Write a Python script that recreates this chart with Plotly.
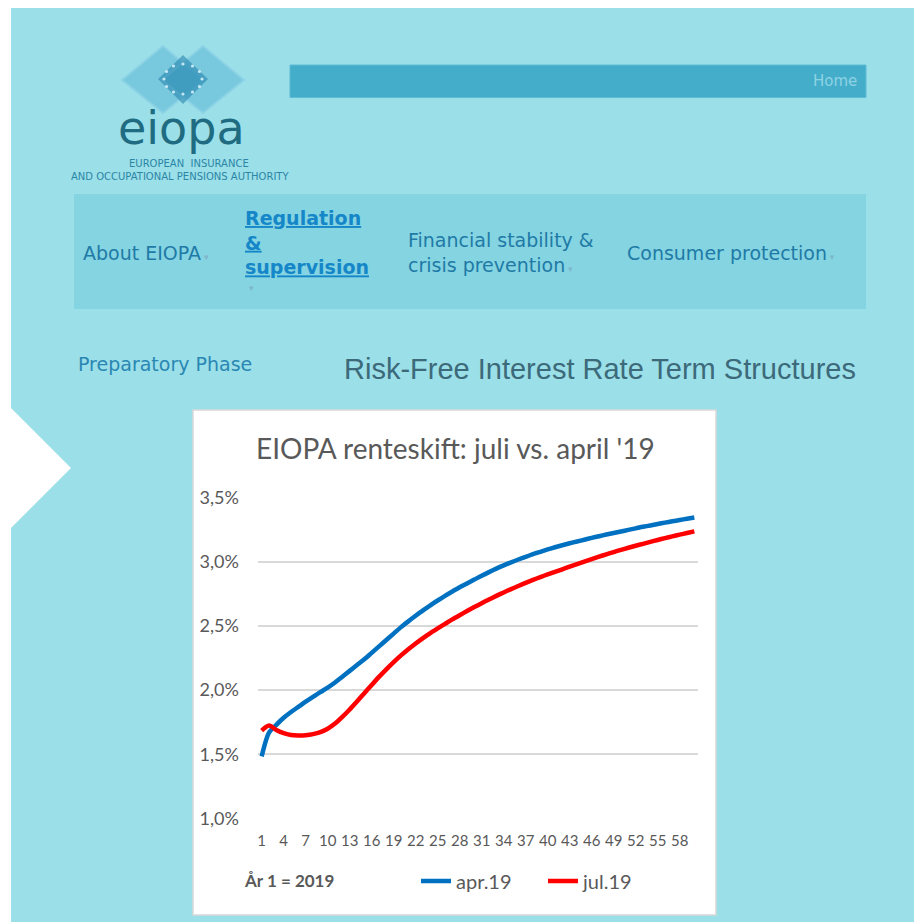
import math
import plotly.graph_objects as go

# ---------------- data ----------------
years = list(range(1, 61))
apr19 = [1.485, 1.67, 1.73, 1.785, 1.83, 1.87, 1.91, 1.948, 1.985, 2.02,
         2.06, 2.105, 2.15, 2.195, 2.24, 2.29, 2.34, 2.39, 2.44, 2.49,
         2.535, 2.578, 2.62, 2.66, 2.697, 2.733, 2.767, 2.80, 2.83, 2.86,
         2.89, 2.918, 2.945, 2.97, 2.994, 3.016, 3.037, 3.057, 3.076, 3.094,
         3.111, 3.127, 3.142, 3.156, 3.17, 3.184, 3.197, 3.21, 3.222, 3.234,
         3.246, 3.258, 3.27, 3.281, 3.292, 3.303, 3.313, 3.323, 3.333, 3.343]
jul19 = [1.685, 1.725, 1.69, 1.665, 1.652, 1.648, 1.65, 1.658, 1.673, 1.70,
         1.74, 1.792, 1.85, 1.912, 1.976, 2.04, 2.103, 2.162, 2.218, 2.27,
         2.318, 2.363, 2.405, 2.444, 2.48, 2.515, 2.55, 2.583, 2.615, 2.646,
         2.676, 2.705, 2.733, 2.76, 2.786, 2.81, 2.834, 2.857, 2.879, 2.90,
         2.92, 2.94, 2.96, 2.98, 3.00, 3.019, 3.038, 3.056, 3.074, 3.091,
         3.107, 3.123, 3.138, 3.153, 3.168, 3.182, 3.196, 3.209, 3.222, 3.235]
series_names = ["apr.19", "jul.19"]
y_ticks = [1.0, 1.5, 2.0, 2.5, 3.0, 3.5]
y_tick_labels = ["1,0%", "1,5%", "2,0%", "2,5%", "3,0%", "3,5%"]
x_ticks = list(range(1, 60, 3))
chart_title = "EIOPA renteskift: juli vs. april '19"
axis_note = "<b>År 1 = 2019</b>"
page_heading = "Risk-Free Interest Rate Term Structures"

# ---------------- geometry helpers (page pixels -> paper) ----------------
FIG = 922
OFF = 8  # default page body margin
ML, MR, MT, MB = 250, 232, 489, 111
PW = FIG - ML - MR
PH = FIG - MT - MB


def px(x):
    return (x - OFF - ML) / PW


def py(y):
    return (FIG - MB - (y - OFF)) / PH


def rect(x0, y0, x1, y1, fill, line=None, lw=0):
    return dict(type="rect", xref="paper", yref="paper", layer="below",
                x0=px(x0), x1=px(x1), y0=py(y1), y1=py(y0),
                fillcolor=fill, line=dict(color=line or fill, width=lw))


def poly(points, fill, line=None, lw=0):
    d = "M " + " L ".join(f"{px(a):.5f},{py(b):.5f}" for a, b in points) + " Z"
    return dict(type="path", xref="paper", yref="paper", layer="below", path=d,
                fillcolor=fill, line=dict(color=line or fill, width=lw))


def text(x, y, s, size, color, family="DejaVu Sans", xanchor="left", align="left", **fkw):
    return dict(xref="paper", yref="paper", x=px(x), y=py(y), text=s,
                showarrow=False, xanchor=xanchor, yanchor="middle", align=align,
                borderpad=0,
                font=dict(family=family, size=size, color=color, **fkw))


BG = "#9BDFE8"
shapes = [
    rect(11, 0, 940, 940, BG),
    poly([(11, 408), (71, 468), (11, 528)], "white"),
    rect(290, 65, 866, 97.5, "#44ADCA", "#5CBCD5", 1),
    rect(74, 194, 866, 309, "#84D4E2"),
    # logo
    poly([(122, 80), (163, 46), (204, 80), (163, 113)], "rgba(80,175,210,0.45)", "rgba(140,210,230,0.9)", 2),
    poly([(162, 80), (203, 46), (244, 80), (203, 113)], "rgba(80,175,210,0.45)", "rgba(140,210,230,0.9)", 2),
    poly([(183, 55), (208, 79), (183, 104), (158, 79)], "rgba(40,135,175,0.6)"),
    # chart box
    rect(193, 410, 716, 915, "white", "#D9D9D9", 1.5),
]
for k in range(12):
    a = 2 * math.pi * k / 12
    cx, cy = 183 + 19 * math.cos(a), 79 + 15 * math.sin(a)
    shapes.append(dict(type="circle", xref="paper", yref="paper", layer="below",
                       x0=px(cx - 1.6), x1=px(cx + 1.6), y0=py(cy + 1.6), y1=py(cy - 1.6),
                       fillcolor="rgba(210,240,248,0.9)", line=dict(width=0)))

arrow = "<span style='font-size:9px;color:#7FB6CA'> ▾</span>"
NAV = "#1F7AA6"
annotations = [
    text(858, 81, "Home", 15, "#8ED3E4", xanchor="right"),
    text(181, 128, "eiopa", 46, "#1F6C82", xanchor="center"),
    text(189, 163, "EUROPEAN  INSURANCE", 10, "#2B86A6", xanchor="center"),
    text(290, 176, "AND OCCUPATIONAL PENSIONS AUTHORITY", 10, "#2B86A6", xanchor="right"),
    text(82, 253, "About EIOPA" + arrow, 19, NAV),
    text(244, 242, "<b>Regulation<br>&<br>supervision</b>", 19, "#1587C8", lineposition="under"),
    text(248, 288, "▾", 9, "#7FB6CA"),
    text(407, 253, "Financial stability &<br>crisis prevention" + arrow, 19, NAV),
    text(626, 253, "Consumer protection" + arrow, 19, NAV),
    text(77, 364, "Preparatory Phase", 19, "#2A87B3"),
    text(857, 369, page_heading, 29, "#3C6A7A", family="Liberation Sans", xanchor="right"),
    text(455, 448, chart_title, 28, "#595959", family="Lato", xanchor="center"),
    text(289, 880, axis_note, 17, "#595959", family="Lato", xanchor="center"),
]

fig = go.Figure()
fig.add_trace(go.Scatter(x=years, y=apr19, name=series_names[0], mode="lines",
                         line=dict(color="#0070C0", width=4.5, shape="spline", smoothing=0.8)))
fig.add_trace(go.Scatter(x=years, y=jul19, name=series_names[1], mode="lines",
                         line=dict(color="#FF0000", width=4.5, shape="spline", smoothing=0.8)))

fig.update_layout(
    width=FIG, height=FIG,
    margin=dict(l=ML, r=MR, t=MT, b=MB, autoexpand=False),
    paper_bgcolor="white", plot_bgcolor="rgba(0,0,0,0)",
    font=dict(family="Lato, sans-serif", color="#595959"),
    shapes=shapes, annotations=annotations,
    showlegend=True,
    legend=dict(orientation="h", x=px(416), y=py(881), xanchor="left", yanchor="middle",
                font=dict(family="Lato", size=20, color="#595959"),
                bgcolor="rgba(0,0,0,0)", entrywidth=82, traceorder="normal"),
    xaxis=dict(range=[0.5, 60.5], tickmode="array", tickvals=x_ticks,
               ticktext=[str(v) for v in x_ticks], showgrid=False, zeroline=False,
               showline=False, ticks="", ticklabelstandoff=11,
               tickfont=dict(family="Lato", size=15, color="#595959")),
    yaxis=dict(range=[0.998, 3.502], tickmode="array", tickvals=y_ticks,
               ticktext=y_tick_labels, showgrid=True, gridcolor="#D9D9D9",
               gridwidth=1.6, zeroline=False, showline=False, ticks="",
               ticklabelstandoff=18,
               tickfont=dict(family="Lato", size=18, color="#595959")),
)

fig.write_html("out.html")
